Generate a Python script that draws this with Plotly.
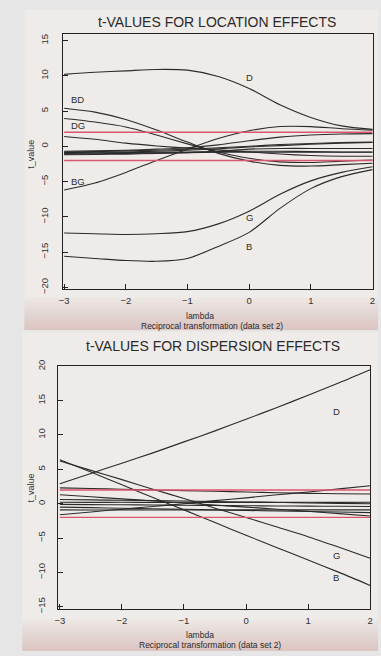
import plotly.graph_objects as go

W, H = 381, 656

# Box-Cox lambda grid (reciprocal transformation, data set 2)
lam = [-3, -2.5, -2, -1.5, -1, -0.5, 0, 0.5, 1, 1.5, 2]

# t-values for location effects
loc_D = [10.2, 10.5, 10.7, 10.9, 10.8, 9.9, 8.2, 5.9, 4.1, 2.9, 2.4]
loc_B = [-15.6, -15.9, -16.2, -16.3, -15.9, -14.2, -12.2, -8.8, -6.0, -4.3, -3.3]
loc_G = [-12.3, -12.4, -12.5, -12.4, -12.1, -11.0, -9.2, -6.8, -4.9, -3.7, -2.9]
loc_BD = [5.4, 4.85, 3.8, 2.3, 0.6, -1.0, -2.1, -2.7, -2.8, -2.6, -2.4]
loc_DG = [3.95, 3.45, 2.75, 1.6, 0.35, -0.8, -1.7, -2.2, -2.3, -2.1, -1.95]
loc_BG = [-6.2, -5.2, -3.7, -2.0, -0.4, 1.1, 2.2, 2.8, 2.8, 2.5, 2.3]
loc_other = [
    [1.4, 1.0, 0.45, 0.05, -0.25, -0.5, -0.8, -1.1, -1.3, -1.4, -1.4],
    [-0.7, -0.65, -0.55, -0.4, -0.2, 0.2, 0.8, 1.3, 1.6, 1.75, 1.8],
    [-0.8, -0.75, -0.65, -0.55, -0.4, -0.2, 0.0, 0.25, 0.4, 0.55, 0.6],
    [-0.9, -0.85, -0.8, -0.7, -0.55, -0.35, -0.1, 0.1, 0.3, 0.45, 0.55],
    [-1.0, -0.95, -0.9, -0.85, -0.8, -0.75, -0.7, -0.7, -0.75, -0.8, -0.8],
    [-1.1, -1.05, -1.0, -0.95, -0.9, -0.85, -0.85, -0.85, -0.85, -0.85, -0.85],
    [-1.2, -1.15, -1.1, -1.0, -0.9, -0.7, -0.4, -0.3, -0.3, -0.3, -0.3],
]
loc_labels = [("D", 0.0, 9.8), ("BD", -2.78, 6.7), ("DG", -2.78, 2.9),
              ("BG", -2.78, -5.0), ("G", 0.0, -10.1), ("B", 0.0, -14.2)]

# t-values for dispersion effects
dis_D = [2.9, 4.4, 5.9, 7.4, 9.0, 10.6, 12.3, 14.0, 15.8, 17.6, 19.5]
dis_B = [6.4, 4.6, 2.75, 0.9, -0.9, -2.75, -4.6, -6.4, -8.2, -10.0, -11.9]
dis_G = [6.2, 4.85, 3.5, 2.1, 0.75, -0.65, -2.0, -3.4, -4.8, -6.35, -7.95]
dis_other = [
    [-1.6, -1.2, -0.8, -0.4, 0.0, 0.45, 0.85, 1.3, 1.7, 2.15, 2.6],
    [2.3, 2.2, 2.1, 2.0, 1.9, 1.8, 1.7, 1.6, 1.5, 1.45, 1.4],
    [1.3, 1.0, 0.7, 0.4, 0.1, -0.2, -0.5, -0.8, -1.1, -1.45, -1.8],
    [0.6, 0.55, 0.5, 0.45, 0.4, 0.3, 0.25, 0.2, 0.1, 0.05, 0.0],
    [0.2, 0.19, 0.2, 0.18, 0.2, 0.17, 0.19, 0.18, 0.2, 0.19, 0.2],
    [-0.1, -0.13, -0.16, -0.2, -0.23, -0.26, -0.3, -0.33, -0.36, -0.38, -0.4],
    [-0.5, -0.58, -0.66, -0.74, -0.82, -0.9, -0.98, -1.06, -1.14, -1.22, -1.3],
    [-0.9, -0.92, -0.9, -0.91, -0.9, -0.92, -0.9, -0.91, -0.9, -0.9, -0.9],
]
dis_labels = [("D", 1.45, 13.4), ("G", 1.45, -7.6), ("B", 1.45, -10.8)]

crit = [-2, 2]
x_ticks = [-3, -2, -1, 0, 1, 2]
loc_y_ticks = [-20, -15, -10, -5, 0, 5, 10, 15]
dis_y_ticks = [-15, -10, -5, 0, 5, 10, 15, 20]

INK = "#2b2b2b"
RED = "#d9576e"
PAPER = "#efebe8"
FONT = "Liberation Sans, Arial, sans-serif"


def px(x):
    return x / W


def py(y):
    return 1 - y / H


fig = go.Figure()


def add_panel(xa, ya, series, labels):
    for ys in series:
        fig.add_trace(go.Scatter(x=lam, y=ys, mode="lines", xaxis=xa, yaxis=ya,
                                 line=dict(color=INK, width=1.1, shape="spline", smoothing=0.8),
                                 hoverinfo="skip", showlegend=False))
    for c in crit:
        fig.add_trace(go.Scatter(x=[lam[0], lam[-1]], y=[c, c], mode="lines", xaxis=xa, yaxis=ya,
                                 line=dict(color=RED, width=1.4),
                                 hoverinfo="skip", showlegend=False))
    for txt, lx, ly in labels:
        fig.add_annotation(x=lx, y=ly, xref=xa, yref=ya, text=txt, showarrow=False,
                           font=dict(family=FONT, size=9.5, color=INK), xanchor="center")


add_panel("x", "y", [loc_D, loc_B, loc_G, loc_BD, loc_DG, loc_BG] + loc_other, loc_labels)
add_panel("x2", "y2", [dis_D, dis_B, dis_G] + dis_other, dis_labels)

axis_common = dict(showline=True, mirror=True, linecolor="#222", linewidth=1,
                   ticks="inside", ticklen=5, tickcolor="#222", showgrid=False,
                   zeroline=False, tickfont=dict(family=FONT, size=9.5, color="#333"))

# printed sheets on a grey backdrop, each sheet shading softly towards its lower edge
shapes = [
    dict(type="rect", xref="paper", yref="paper", x0=px(21), x1=1, y0=py(329), y1=py(3),
         fillcolor=PAPER, line=dict(width=0), layer="below"),
    dict(type="rect", xref="paper", yref="paper", x0=px(19), x1=1, y0=0, y1=py(331),
         fillcolor=PAPER, line=dict(width=0), layer="below"),
]
for top, bottom, x0 in ((296, 329, 21), (624, 656, 19)):
    steps = 12
    for i in range(steps):
        y0 = top + (bottom - top) * i / steps
        shapes.append(dict(type="rect", xref="paper", yref="paper", x0=px(x0), x1=1,
                           y0=py(bottom), y1=py(y0),
                           fillcolor="rgba(195,150,138,0.035)", line=dict(width=0),
                           layer="below"))

fig.update_layout(
    width=W, height=H,
    margin=dict(l=0, r=0, t=0, b=0),
    paper_bgcolor="#e6e6e6",
    plot_bgcolor="rgba(0,0,0,0)",
    xaxis=dict(domain=[px(60), px(376)], range=[-3.02, 2.01], tickvals=x_ticks,
               anchor="y", ticklabelstandoff=3, **axis_common),
    yaxis=dict(domain=[py(287), py(27)], range=[-20.2, 16.0], tickvals=loc_y_ticks,
               tickangle=-90, anchor="x", ticklabelstandoff=10, **axis_common),
    xaxis2=dict(domain=[px(55), px(373)], range=[-3.03, 2.0], tickvals=x_ticks,
                anchor="y2", ticklabelstandoff=3, **axis_common),
    yaxis2=dict(domain=[py(613), py(366)], range=[-15.3, 20.0], tickvals=dis_y_ticks,
                tickangle=-90, anchor="x2", ticklabelstandoff=8, **axis_common),
    shapes=shapes,
)

# titles and axis captions
texts = [
    ("t-VALUES FOR LOCATION EFFECTS", 217, 15, 14),
    ("t-VALUES FOR DISPERSION EFFECTS", 213, 345, 14),
    ("lambda", 200, 314.5, 8.5),
    ("Reciprocal transformation (data set 2)", 212, 325, 8.5),
    ("lambda", 200, 639.5, 8.5),
    ("Reciprocal transformation (data set 2)", 210, 650, 8.5),
]
for t, x, y, s in texts:
    fig.add_annotation(x=px(x), y=py(y), xref="paper", yref="paper", text=t, showarrow=False,
                       font=dict(family=FONT, size=s, color="#2a2a2a"), borderpad=0,
                       xanchor="center", yanchor="middle")

for y in (150, 490):
    fig.add_annotation(x=px(28), y=py(y), xref="paper", yref="paper", text="t_value",
                       showarrow=False, textangle=-90,
                       font=dict(family=FONT, size=9, color="#333"),
                       xanchor="center", yanchor="middle")

fig.write_html("out.html")
